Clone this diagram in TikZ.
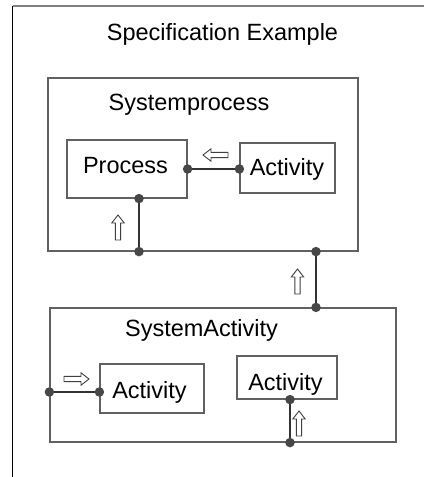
\documentclass[tikz,border=0pt]{standalone}
\usepackage{fontspec}
\setmainfont{Liberation Sans}
\begin{document}
\begin{tikzpicture}[x=1pt,y=-1pt,
  box/.style={draw=black!62, line width=1.2pt, rectangle, inner sep=0pt},
  label/.style={anchor=base, inner sep=0pt, font=\fontsize{23.5}{28}\selectfont},
  wire/.style={draw=black!80, line width=1.3pt},
  dot/.style={circle, fill=black!72, inner sep=0pt, minimum size=9.5pt},
  arrowline/.style={draw=black!75, line width=0.9pt, fill=white},
  hollow arrow/.pic={
    \path[arrowline] (0,-2.6) -- (17,-2.6) -- (17,-6.2) -- (25,0)
      -- (17,6.2) -- (17,2.6) -- (0,2.6) -- cycle;
  }]
\useasboundingbox (0,0) rectangle (424,477);

% outer frame (open at right and bottom)
\draw[black!50, line width=2pt] (12.5,5.5) -- (424,5.5);
\draw[black, line width=1.4pt] (12.5,5.5) -- (12.5,477);

% title
\node[label] (title) at (222.5,40) {Specification Example};

% Systemprocess container
\node[box, minimum width=310pt, minimum height=173pt] (sp) at (203,164.5) {};
\node[label] (sptext) at (189,110) {Systemprocess};

\node[box, minimum width=120pt, minimum height=58pt] (proc) at (127,169) {};
\node[label] (proctext) at (125.5,173) {Process};

\node[box, minimum width=95pt, minimum height=50pt] (act1) at (287.5,168) {};
\node[label] (act1text) at (287,175) {Activity};

% SystemActivity container
\node[box, minimum width=346pt, minimum height=134pt] (sa) at (223,375) {};
\node[label] (satext) at (201.5,336) {SystemActivity};

\node[box, minimum width=104pt, minimum height=49pt] (act2) at (152,388.5) {};
\node[label] (act2text) at (149.5,398) {Activity};

\node[box, minimum width=100pt, minimum height=43pt] (act3) at (287,377.5) {};
\node[label] (act3text) at (285.5,390) {Activity};

% port coordinates on the box borders
\coordinate (pr) at (proc.east |- 0,169);
\coordinate (al) at (act1.west |- 0,169);
\coordinate (pb) at (139,0 |- proc.south);
\coordinate (spb1) at (pb |- sp.south);
\coordinate (spb2) at (316,0 |- sp.south);
\coordinate (sat) at (spb2 |- sa.north);
\coordinate (sal) at (sa.west |- 0,392);
\coordinate (a2l) at (act2.west |- 0,392);
\coordinate (a3b) at (290,0 |- act3.south);
\coordinate (sab) at (a3b |- sa.south);

% connectors
\draw[wire] (pr) -- (al);
\draw[wire] (pb) -- (spb1);
\draw[wire] (spb2) -- (sat);
\draw[wire] (sal) -- (a2l);
\draw[wire] (a3b) -- (sab);

% port dots
\foreach \p in {pr,al,pb,spb1,spb2,sat,sal,a2l,a3b,sab}
  \node[dot] at (\p) {};

% flow direction arrows
\pic at (228,155) [rotate=180] {hollow arrow};
\pic at (118,240) [rotate=90] {hollow arrow};
\pic at (297.5,294) [rotate=90] {hollow arrow};
\pic at (64,379) {hollow arrow};
\pic at (299,436) [rotate=90] {hollow arrow};
\end{tikzpicture}
\end{document}
